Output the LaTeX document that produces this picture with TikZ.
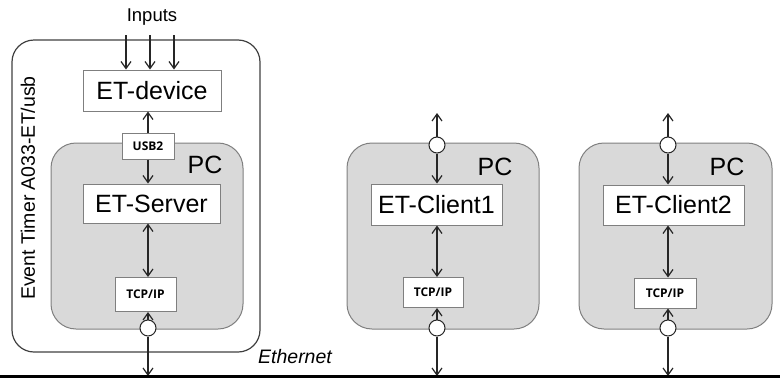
\documentclass[tikz,border=0pt]{standalone}
\usepackage{fontspec}
\setmainfont{Liberation Sans}
\newfontfamily\portfont{Open Sans}
\usetikzlibrary{arrows.meta}
\definecolor{pcfill}{HTML}{D9D9D9}
\definecolor{boxedge}{HTML}{7F7F7F}
\definecolor{wirecol}{HTML}{262626}

\begin{document}
\begin{tikzpicture}[x=1pt,y=-1pt,
    >={Straight Barb[length=7pt,width=10pt]},
    wire/.style={draw=wirecol,line width=1.2pt},
    unit/.style={rectangle,draw=boxedge,line width=1pt,fill=white,
    inner sep=0pt,font=\fontsize{25}{28}\selectfont},
    port/.style={rectangle,draw=boxedge,line width=1pt,fill=white,
    inner sep=0pt,font=\portfont\bfseries\fontsize{12}{14}\selectfont},
    pcbox/.style={rectangle,rounded corners=25pt,draw=boxedge,line width=1pt,
    fill=pcfill,minimum width=192pt,minimum height=186pt},
    joint/.style={circle,draw=wirecol,line width=1pt,fill=white,
    inner sep=0pt,minimum size=16pt},
    pclabel/.style={font=\fontsize{25}{28}\selectfont}
    ]
    \useasboundingbox (0,0) rectangle (780,378);
    % device box
    \node[rectangle,rounded corners=22pt,draw=black!75,line width=1.2pt,
    minimum width=248pt,minimum height=312pt] (timer) at (136,196) {};
    \node[rotate=90,font=\fontsize{19.5}{22}\selectfont] (timerlabel) at (28,188) {Event Timer A033-ET/usb};
    \node[font=\fontsize{18.5}{20}\selectfont] (inputs) at (152,17) {Inputs};
    % the three PCs
    \node[pcbox] (pc0) at (147,236) {};
    \node[pcbox] (pc1) at (443,236) {};
    \node[pcbox,minimum width=193pt] (pc2) at (675.5,236) {};
    \node[pclabel] (pcl0) at (205,165) {PC};
    \node[pclabel] (pcl1) at (495,167) {PC};
    \node[pclabel] (pcl2) at (727,167) {PC};
    % boxes
    \node[unit,minimum width=138pt,minimum height=41pt] (dev) at (152,90.5) {ET-device};
    \node[port,minimum width=52pt,minimum height=26pt] (usb) at (148,146) {USB2};
    \node[unit,minimum width=137pt,minimum height=39pt] (srv) at (151.5,203.5) {ET-Server};
    \node[port,minimum width=61pt,minimum height=34pt] (tcp0) at (145.5,294.5) {TCP/IP};
    \node[unit,minimum width=131pt,minimum height=41pt] (cl1) at (436.5,204.5) {ET-Client1};
    \node[port,minimum width=60pt,minimum height=30pt] (tcp1) at (433,292.5) {TCP/IP};
    \node[unit,minimum width=141pt,minimum height=40pt] (cl2) at (673.5,205) {ET-Client2};
    \node[port,minimum width=62pt,minimum height=30pt] (tcp2) at (665,293) {TCP/IP};
    % joints
    \node[joint] (c0) at (148,328) {};
    \node[joint] (c1b) at (437,328) {};
    \node[joint] (c1t) at (437,145) {};
    \node[joint] (c2b) at (668,328) {};
    \node[joint] (c2t) at (668,145) {};
    \node[font=\itshape\fontsize{19.5}{22}\selectfont] (ethlabel) at (295,357) {Ethernet};
    \coordinate (ethL) at (0,376);
    \coordinate (ethR) at (780,376);
    \coordinate (in1) at (126,35);
    \coordinate (in2) at (150,35);
    \coordinate (in3) at (174,35);
    \coordinate (up1) at (437,113);
    \coordinate (up2) at (668,113);
    % connectors
    \foreach \i in {1,2,3}
    \draw[wire,->] (in\i) -- (in\i |- dev.north);
    \draw[wire,->] (usb.north -| c0) -- (dev.south -| c0);
    \draw[wire,->] (usb.south -| c0) -- (srv.north -| c0);
    \draw[wire,<->] (srv.south -| c0) -- (tcp0.north -| c0);
    \draw[wire,->] (c0.north) -- (tcp0.south -| c0);
    \draw[wire,->] (c0.south) -- (c0 |- ethL);
    \draw[wire,->] (c1t.north) -- (up1);
    \draw[wire,->] (c1t.south) -- (cl1.north -| c1t);
    \draw[wire,<->] (cl1.south -| c1t) -- (tcp1.north -| c1t);
    \draw[wire,->] (c1b.north) -- (tcp1.south -| c1b);
    \draw[wire,->] (c1b.south) -- (c1b |- ethL);
    \draw[wire,->] (c2t.north) -- (up2);
    \draw[wire,->] (c2t.south) -- (cl2.north -| c2t);
    \draw[wire,<->] (cl2.south -| c2t) -- (tcp2.north -| c2t);
    \draw[wire,->] (c2b.north) -- (tcp2.south -| c2b);
    \draw[wire,->] (c2b.south) -- (c2b |- ethL);
    \draw[line width=3pt] (ethL) -- (ethR);
\end{tikzpicture}
\end{document}
